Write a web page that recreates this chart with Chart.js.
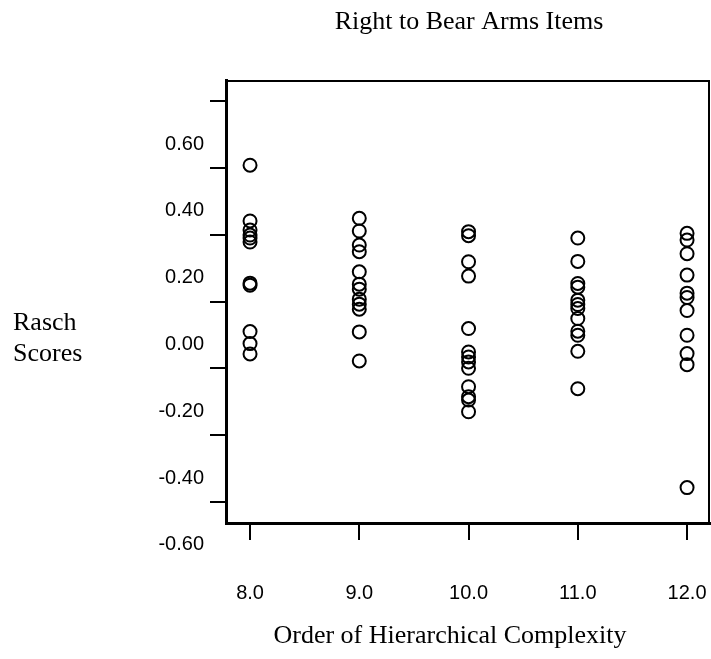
<!DOCTYPE html>
<html>
<head>
<meta charset="utf-8">
<script src="https://cdn.jsdelivr.net/npm/chart.js@4.4.1/dist/chart.umd.min.js"></script>
<style>
  html, body { margin: 0; padding: 0; background: #fff; }
  #wrap { width: 711px; height: 659px; }
</style>
</head>
<body>
<div id="wrap"><canvas id="raschChart" width="711" height="659"></canvas></div>
<script>
// Rasch scores for each order of hierarchical complexity
const orders = [8, 9, 10, 11, 12];
const order8 = [0.408, 0.241, 0.214, 0.199, 0.19, 0.178, 0.055, 0.049, -0.090, -0.126, -0.157];
const order9 = [0.249, 0.211, 0.169, 0.149, 0.089, 0.052, 0.037, 0.007, -0.008, -0.023, -0.091, -0.178];
const order10 = [0.209, 0.197, 0.119, 0.076, -0.081, -0.151, -0.166, -0.181, -0.200, -0.255, -0.285, -0.295, -0.330];
const order11 = [0.190, 0.120, 0.054, 0.043, 0.004, -0.009, -0.021, -0.051, -0.089, -0.101, -0.149, -0.261];
const order12 = [0.204, 0.184, 0.143, 0.079, 0.025, 0.012, -0.027, -0.101, -0.156, -0.189, -0.557];
const yTickValues = [-0.6, -0.4, -0.2, 0, 0.2, 0.4, 0.6];
const xTickValues = [8, 9, 10, 11, 12];

const columns = [order8, order9, order10, order11, order12];
const points = [];
columns.forEach((col, i) => {
    col.forEach(v => points.push({x: orders[i], y: v}));
});

// white background + top/right frame + titles
const framePlugin = {
    id: 'framePlugin',
    beforeDraw(chart) {
        const ctx = chart.ctx;
        ctx.save();
        ctx.fillStyle = '#fff';
        ctx.fillRect(0, 0, chart.width, chart.height);
        ctx.restore();
    },
    afterDraw(chart) {
        const {ctx, chartArea: a} = chart;
        ctx.save();
        ctx.strokeStyle = '#000';
        ctx.lineWidth = 2;
        ctx.beginPath();
        ctx.moveTo(a.left, a.top + 1);
        ctx.lineTo(a.right - 1, a.top + 1);
        ctx.lineTo(a.right - 1, a.bottom);
        ctx.stroke();

        ctx.fillStyle = '#000';
        ctx.font = '26px "Liberation Serif", "Times New Roman", serif';
        ctx.textBaseline = 'alphabetic';
        ctx.textAlign = 'center';
        ctx.fillText('Right to Bear Arms Items', 469, 29);
        ctx.fillText('Order of Hierarchical Complexity', 450, 643);
        ctx.textAlign = 'left';
        ctx.fillText('Rasch', 13, 330);
        ctx.fillText('Scores', 13, 361);
        ctx.restore();
    }
};

new Chart(document.getElementById('raschChart').getContext('2d'), {
    type: 'scatter',
    data: {
        datasets: [{
            data: points,
            pointStyle: 'circle',
            pointRadius: 6.5,
            pointHoverRadius: 6.5,
            pointBorderWidth: 2,
            pointBorderColor: '#000',
            pointBackgroundColor: 'rgba(0,0,0,0)'
        }]
    },
    options: {
        responsive: false,
        animation: false,
        events: [],
        layout: { autoPadding: false, padding: { left: 0, top: 80, right: 1, bottom: 0 } },
        plugins: { legend: { display: false }, tooltip: { enabled: false } },
        scales: {
            x: {
                type: 'linear',
                min: 7.78,
                max: 12.21,
                afterFit: s => { s.height = 136; s.paddingLeft = 0; s.paddingRight = 0; },
                afterBuildTicks: s => { s.ticks = xTickValues.map(v => ({value: v})); },
                ticks: {
                    color: '#000',
                    font: { family: '"Liberation Sans", Arial, sans-serif', size: 20 },
                    padding: 41,
                    maxRotation: 0,
                    callback: v => v.toFixed(1)
                },
                grid: { drawOnChartArea: false, drawTicks: true, tickLength: 17, color: '#000', lineWidth: 2 },
                border: { display: true, color: '#000', width: 3 }
            },
            y: {
                type: 'linear',
                min: -0.663,
                max: 0.663,
                afterFit: s => { s.width = 226; s.paddingTop = 0; s.paddingBottom = 0; },
                afterBuildTicks: s => { s.ticks = yTickValues.map(v => ({value: v})); },
                ticks: {
                    color: '#000',
                    font: { family: '"Liberation Sans", Arial, sans-serif', size: 20 },
                    padding: 6,
                    labelOffset: 43,
                    callback: v => v.toFixed(2)
                },
                grid: { drawOnChartArea: false, drawTicks: true, tickLength: 16, color: '#000', lineWidth: 2 },
                border: { display: true, color: '#000', width: 3 }
            }
        }
    },
    plugins: [framePlugin]
});
</script>
</body>
</html>
